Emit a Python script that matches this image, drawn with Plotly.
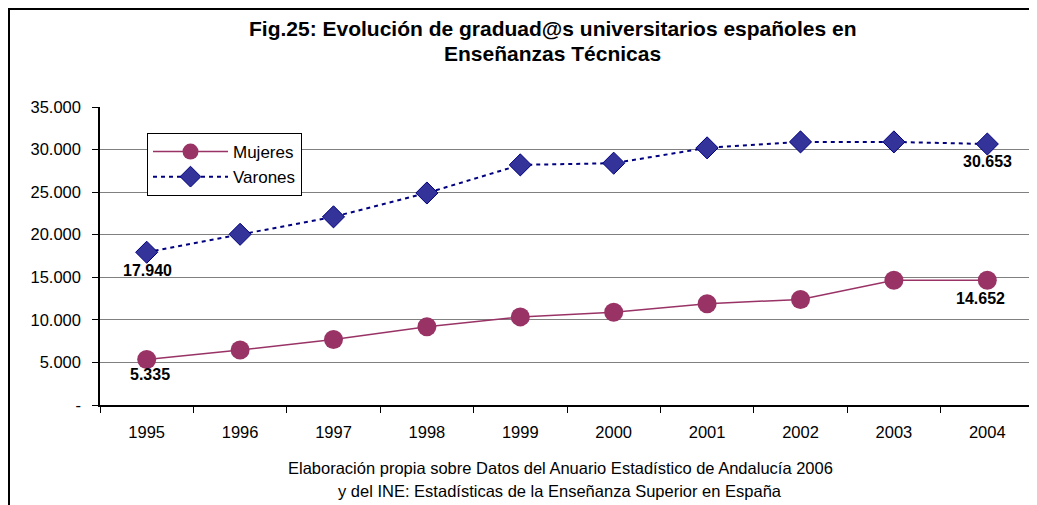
import plotly.graph_objects as go

years = ["1995", "1996", "1997", "1998", "1999", "2000", "2001", "2002", "2003", "2004"]
mujeres = [5335, 6450, 7700, 9200, 10350, 10900, 11900, 12400, 14650, 14652]
varones = [17940, 20050, 22100, 24900, 28200, 28400, 30200, 30900, 30900, 30653]
y_ticks = [0, 5000, 10000, 15000, 20000, 25000, 30000, 35000]
y_tick_text = ["-", "5.000", "10.000", "15.000", "20.000", "25.000", "30.000", "35.000"]

title_lines = ["Fig.25: Evolución de graduad@s universitarios españoles en",
               "Enseñanzas Técnicas"]
footer_lines = ["Elaboración propia sobre Datos del Anuario Estadístico de Andalucía 2006",
                "y del INE: Estadísticas de la Enseñanza Superior en España"]

FONT = "Arial, Liberation Sans, sans-serif"


def fmt(v):
    return f"{v:,}".replace(",", ".")


fig = go.Figure()
fig.add_trace(go.Scatter(
    x=years, y=mujeres, name="Mujeres", mode="lines+markers",
    line=dict(color="#993366", width=1.5),
    marker=dict(symbol="circle", size=19, color="#993366"),
))
fig.add_trace(go.Scatter(
    x=years, y=varones, name="Varones", mode="lines+markers",
    line=dict(color="#000080", width=2, dash="4px,4px"),
    marker=dict(symbol="diamond", size=17, color="#333399",
                line=dict(color="#000080", width=1)),
))

OFF = 8
PAGE_W, PAGE_H = 1037, 505
W, H = PAGE_W - OFF, PAGE_H - OFF
PL, PR, PT, PB = 100, 1034, 107, 405
L, T = PL - OFF, PT - OFF
R = W - (PR - OFF)
B = H - (PB - OFF)
pw, ph = PR - PL, PB - PT


def px_x(px):
    return (px - PL) / pw


def px_y(py):
    return (PB - py) / ph


annotations = []
last = len(years) - 1
label_specs = [
    (0, varones[0], 1, -18),
    (last, varones[last], 0, -17),
    (0, mujeres[0], 3, -15),
    (last, mujeres[last], -7, -18),
]
for xi, yv, xs, ys in label_specs:
    annotations.append(dict(
        x=xi, y=yv, xref="x", yref="y", text=fmt(yv), showarrow=False,
        xshift=xs, yshift=ys, xanchor="center", yanchor="middle",
        font=dict(family=FONT, size=16, color="black", weight="bold"),
    ))

for line, py in zip(title_lines, [28, 54]):
    annotations.append(dict(
        x=px_x(552), y=px_y(py), xref="paper", yref="paper", text=line,
        showarrow=False, xanchor="center", yanchor="middle",
        font=dict(family=FONT, size=21, color="black", weight="bold"),
    ))
for line, py in zip(footer_lines, [468, 491]):
    annotations.append(dict(
        x=px_x(560), y=px_y(py), xref="paper", yref="paper", text=line,
        showarrow=False, xanchor="center", yanchor="middle",
        font=dict(family=FONT, size=16.5, color="black"),
    ))

shapes = [
    dict(type="rect", xref="paper", yref="paper",
         x0=px_x(OFF + 1), y0=px_y(520), x1=px_x(1050), y1=px_y(OFF + 1),
         line=dict(color="black", width=2), layer="below"),
    dict(type="line", xref="paper", yref="paper", x0=1, x1=1, y0=0, y1=1,
         line=dict(color="#808080", width=1.5)),
]

fig.update_layout(
    width=W, height=H,
    margin=dict(l=L, r=R, t=T, b=B),
    paper_bgcolor="white", plot_bgcolor="white",
    font=dict(family=FONT, size=16, color="black"),
    showlegend=True,
    legend=dict(
        x=px_x(147), y=px_y(133), xanchor="left", yanchor="top",
        bgcolor="white", bordercolor="black", borderwidth=1,
        font=dict(family=FONT, size=17, color="black"),
        itemwidth=75, tracegroupgap=0,
    ),
    annotations=annotations,
    shapes=shapes,
    xaxis=dict(
        type="category", tickson="boundaries", ticks="outside", ticklen=6,
        tickcolor="black", showline=True, linecolor="black", linewidth=1.5,
        showgrid=False, tickfont=dict(family=FONT, size=16.5, color="black"),
        ticklabelstandoff=11, range=[-0.5, 9.5], fixedrange=True,
    ),
    yaxis=dict(
        range=[0, 35000], tickvals=y_ticks, ticktext=y_tick_text,
        ticks="outside", ticklen=6, tickcolor="black",
        showline=True, linecolor="black", linewidth=1.5,
        showgrid=True, gridcolor="#808080", gridwidth=1.2,
        zeroline=False, tickfont=dict(family=FONT, size=16.5, color="black"),
        ticklabelstandoff=8, fixedrange=True,
    ),
)

fig.write_html("out.html")
